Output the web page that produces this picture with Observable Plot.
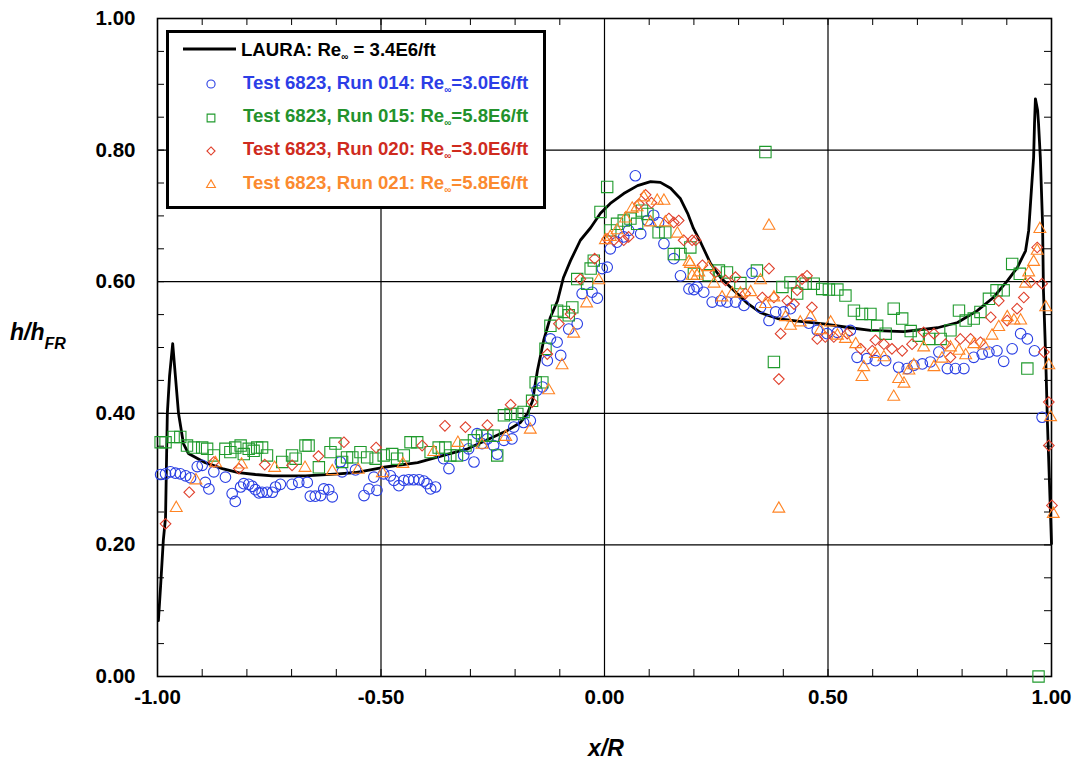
<!DOCTYPE html>
<html>
<head>
<meta charset="utf-8">
<script src="https://cdn.jsdelivr.net/npm/d3@7"></script>
<script src="https://cdn.jsdelivr.net/npm/@observablehq/plot@0.6"></script>
<style>
  body { margin: 0; background: #fff; }
  #wrap { position: relative; width: 1081px; height: 763px; font-family: "Liberation Sans", Arial, Helvetica, sans-serif; }
  #over { position: absolute; left: 0; top: 0; pointer-events: none; }
</style>
</head>
<body>
<div id="wrap"></div>
<script>
// ---- Data ----
const xMajorTicks = [-1, -0.5, 0, 0.5, 1];
const yMajorTicks = [0, 0.2, 0.4, 0.6, 0.8, 1.0];
const xGrid = [-0.5, 0, 0.5];
const yGrid = [0.2, 0.4, 0.6, 0.8];
const xMinorStep = 0.1;
const yMinorStep = 0.05;

const seriesNames = [
  "LAURA: Re\u221E = 3.4E6/ft",
  "Test 6823, Run 014: Re\u221E=3.0E6/ft",
  "Test 6823, Run 015: Re\u221E=5.8E6/ft",
  "Test 6823, Run 020: Re\u221E=3.0E6/ft",
  "Test 6823, Run 021: Re\u221E=5.8E6/ft"
];

// LAURA computation (x/R, h/hFR)
const laura = [
[-0.998,0.085],[-0.993,0.138],[-0.987,0.207],[-0.982,0.242],[-0.978,0.400],[-0.973,0.457],[-0.966,0.506],
[-0.960,0.457],[-0.953,0.400],[-0.942,0.354],[-0.931,0.339],[-0.893,0.325],[-0.855,0.316],[-0.819,0.310],
[-0.781,0.307],[-0.743,0.305],[-0.669,0.305],[-0.595,0.308],[-0.557,0.310],[-0.494,0.318],[-0.418,0.325],
[-0.360,0.336],[-0.306,0.346],[-0.255,0.362],[-0.217,0.374],[-0.188,0.386],[-0.172,0.400],[-0.161,0.419],
[-0.150,0.465],[-0.136,0.511],[-0.121,0.546],[-0.105,0.571],[-0.092,0.606],[-0.076,0.632],[-0.054,0.663],
[-0.031,0.682],[-0.009,0.704],[0.013,0.719],[0.043,0.734],[0.074,0.746],[0.103,0.752],[0.125,0.751],
[0.148,0.742],[0.170,0.726],[0.186,0.704],[0.199,0.681],[0.215,0.660],[0.237,0.628],[0.260,0.606],
[0.289,0.587],[0.320,0.567],[0.349,0.553],[0.387,0.544],[0.432,0.540],[0.490,0.536],[0.550,0.530],
[0.595,0.526],[0.669,0.524],[0.745,0.530],[0.790,0.538],[0.834,0.556],[0.870,0.576],[0.902,0.602],
[0.924,0.622],[0.942,0.647],[0.949,0.678],[0.955,0.739],[0.960,0.789],[0.962,0.840],[0.964,0.878],
[0.969,0.860],[0.971,0.840],[0.975,0.789],[0.980,0.688],[0.982,0.587],[0.987,0.485],[0.991,0.384],
[0.996,0.283],[1.000,0.202]
];

// Test 6823, Run 014 (circles)
const run014 = [
[-0.993,0.307],[-0.982,0.308],[-0.971,0.311],[-0.960,0.309],[-0.949,0.308],[-0.937,0.305],[-0.926,0.302],
[-0.911,0.319],[-0.900,0.321],[-0.893,0.295],[-0.885,0.285],[-0.874,0.311],[-0.848,0.303],[-0.833,0.278],
[-0.826,0.266],[-0.814,0.288],[-0.807,0.293],[-0.796,0.292],[-0.788,0.289],[-0.781,0.284],[-0.773,0.279],
[-0.766,0.280],[-0.755,0.280],[-0.743,0.280],[-0.736,0.288],[-0.725,0.292],[-0.699,0.292],[-0.684,0.295],
[-0.665,0.295],[-0.658,0.274],[-0.647,0.274],[-0.635,0.275],[-0.628,0.285],[-0.617,0.284],[-0.609,0.273],
[-0.591,0.326],[-0.587,0.311],[-0.557,0.314],[-0.538,0.275],[-0.527,0.285],[-0.516,0.303],[-0.509,0.283],
[-0.494,0.308],[-0.479,0.305],[-0.471,0.298],[-0.460,0.290],[-0.449,0.298],[-0.438,0.299],[-0.427,0.299],
[-0.415,0.299],[-0.404,0.297],[-0.397,0.293],[-0.389,0.285],[-0.378,0.288],[-0.360,0.331],[-0.348,0.316],
[-0.315,0.336],[-0.304,0.346],[-0.292,0.326],[-0.285,0.369],[-0.274,0.354],[-0.262,0.361],[-0.248,0.351],
[-0.240,0.338],[-0.225,0.359],[-0.207,0.361],[-0.203,0.379],[-0.181,0.386],[-0.166,0.389],[-0.151,0.435],
[-0.139,0.440],[-0.128,0.480],[-0.121,0.513],[-0.106,0.508],[-0.098,0.488],[-0.080,0.528],[-0.061,0.536],
[-0.050,0.582],[-0.028,0.584],[-0.016,0.575],[-0.005,0.620],[0.006,0.622],[0.013,0.650],[0.028,0.660],
[0.043,0.668],[0.054,0.678],[0.069,0.761],[0.081,0.673],[0.096,0.693],[0.110,0.701],[0.121,0.690],
[0.133,0.658],[0.155,0.635],[0.170,0.609],[0.189,0.589],[0.200,0.588],[0.207,0.592],[0.222,0.584],
[0.241,0.569],[0.260,0.571],[0.274,0.569],[0.293,0.569],[0.312,0.564],[0.330,0.613],[0.349,0.561],
[0.368,0.541],[0.383,0.554],[0.401,0.554],[0.416,0.559],[0.457,0.537],[0.476,0.526],[0.498,0.521],
[0.521,0.523],[0.550,0.526],[0.565,0.485],[0.587,0.483],[0.606,0.480],[0.629,0.480],[0.658,0.470],
[0.677,0.468],[0.692,0.473],[0.711,0.475],[0.729,0.478],[0.748,0.493],[0.767,0.468],[0.785,0.468],
[0.804,0.468],[0.826,0.485],[0.845,0.490],[0.860,0.493],[0.878,0.495],[0.893,0.479],[0.912,0.498],
[0.931,0.521],[0.946,0.513],[0.962,0.495],[0.979,0.394]
];

// Test 6823, Run 015 (squares)
const run015 = [
[-0.993,0.356],[-0.982,0.356],[-0.964,0.364],[-0.949,0.364],[-0.934,0.351],[-0.919,0.348],[-0.900,0.348],
[-0.889,0.346],[-0.874,0.336],[-0.848,0.346],[-0.837,0.341],[-0.826,0.348],[-0.814,0.351],[-0.807,0.338],
[-0.796,0.346],[-0.785,0.343],[-0.777,0.348],[-0.766,0.348],[-0.755,0.336],[-0.721,0.326],[-0.699,0.336],
[-0.691,0.331],[-0.669,0.351],[-0.662,0.351],[-0.639,0.318],[-0.613,0.341],[-0.602,0.354],[-0.587,0.326],
[-0.576,0.333],[-0.564,0.333],[-0.546,0.341],[-0.531,0.333],[-0.512,0.331],[-0.494,0.336],[-0.475,0.338],
[-0.464,0.331],[-0.449,0.336],[-0.434,0.356],[-0.419,0.356],[-0.389,0.341],[-0.371,0.348],[-0.356,0.348],
[-0.345,0.336],[-0.330,0.336],[-0.311,0.351],[-0.292,0.359],[-0.274,0.366],[-0.262,0.366],[-0.248,0.366],
[-0.240,0.336],[-0.225,0.397],[-0.210,0.399],[-0.195,0.399],[-0.181,0.402],[-0.162,0.419],[-0.154,0.447],
[-0.139,0.447],[-0.132,0.498],[-0.121,0.533],[-0.106,0.556],[-0.091,0.554],[-0.080,0.549],[-0.072,0.561],
[-0.061,0.604],[-0.039,0.597],[-0.031,0.620],[-0.024,0.632],[-0.009,0.706],[0.006,0.744],[0.013,0.678],
[0.028,0.688],[0.043,0.693],[0.058,0.696],[0.073,0.688],[0.084,0.708],[0.096,0.703],[0.121,0.675],
[0.136,0.675],[0.155,0.642],[0.170,0.642],[0.192,0.652],[0.200,0.612],[0.233,0.610],[0.256,0.617],
[0.274,0.614],[0.304,0.598],[0.341,0.617],[0.360,0.797],[0.379,0.478],[0.398,0.592],[0.416,0.599],
[0.431,0.582],[0.450,0.597],[0.468,0.597],[0.487,0.589],[0.502,0.588],[0.521,0.588],[0.539,0.579],
[0.558,0.556],[0.576,0.551],[0.595,0.551],[0.610,0.533],[0.629,0.521],[0.647,0.559],[0.666,0.544],
[0.685,0.525],[0.703,0.518],[0.726,0.513],[0.752,0.513],[0.774,0.526],[0.793,0.556],[0.808,0.541],
[0.826,0.544],[0.841,0.554],[0.860,0.574],[0.877,0.587],[0.893,0.587],[0.912,0.627],[0.929,0.612],
[0.946,0.468],[0.971,0.000]
];

// Test 6823, Run 020 (diamonds)
const run020 = [
[-0.982,0.232],[-0.929,0.280],[-0.874,0.326],[-0.818,0.316],[-0.760,0.322],[-0.699,0.321],[-0.640,0.335],
[-0.583,0.356],[-0.511,0.348],[-0.408,0.351],[-0.357,0.381],[-0.311,0.379],[-0.262,0.382],[-0.210,0.413],
[-0.162,0.417],[-0.128,0.490],[-0.102,0.536],[-0.076,0.551],[-0.054,0.604],[-0.022,0.635],[0.006,0.665],
[0.021,0.663],[0.043,0.663],[0.054,0.668],[0.077,0.718],[0.092,0.732],[0.105,0.720],[0.144,0.696],
[0.155,0.690],[0.166,0.693],[0.177,0.663],[0.196,0.663],[0.204,0.663],[0.219,0.625],[0.248,0.614],
[0.271,0.602],[0.293,0.607],[0.315,0.582],[0.353,0.576],[0.368,0.620],[0.379,0.576],[0.390,0.452],
[0.394,0.521],[0.409,0.571],[0.424,0.566],[0.431,0.587],[0.442,0.604],[0.453,0.609],[0.464,0.561],
[0.476,0.513],[0.494,0.516],[0.513,0.516],[0.543,0.521],[0.573,0.498],[0.599,0.495],[0.606,0.511],
[0.625,0.505],[0.643,0.498],[0.666,0.495],[0.688,0.505],[0.714,0.523],[0.737,0.521],[0.763,0.505],
[0.774,0.485],[0.796,0.513],[0.819,0.513],[0.841,0.508],[0.864,0.546],[0.882,0.571],[0.901,0.541],
[0.923,0.559],[0.938,0.576],[0.953,0.599],[0.968,0.652],[0.979,0.597],[0.983,0.493],[0.994,0.417],
[0.994,0.351],[1.001,0.260]
];

// Test 6823, Run 021 (triangles)
const run021 = [
[-0.958,0.256],[-0.914,0.298],[-0.870,0.324],[-0.812,0.322],[-0.738,0.317],[-0.670,0.317],[-0.609,0.312],
[-0.551,0.314],[-0.497,0.309],[-0.451,0.323],[-0.382,0.341],[-0.328,0.355],[-0.274,0.352],[-0.221,0.364],
[-0.166,0.375],[-0.125,0.435],[-0.095,0.473],[-0.069,0.521],[-0.040,0.567],[-0.013,0.602],[0.002,0.663],
[0.013,0.668],[0.028,0.678],[0.047,0.696],[0.062,0.711],[0.073,0.713],[0.088,0.728],[0.103,0.690],
[0.118,0.723],[0.133,0.723],[0.136,0.690],[0.163,0.673],[0.189,0.630],[0.192,0.627],[0.196,0.609],
[0.207,0.609],[0.211,0.614],[0.233,0.622],[0.245,0.597],[0.263,0.576],[0.286,0.582],[0.304,0.582],
[0.327,0.584],[0.349,0.602],[0.360,0.566],[0.368,0.685],[0.379,0.576],[0.390,0.255],[0.405,0.546],
[0.416,0.533],[0.438,0.538],[0.461,0.546],[0.483,0.526],[0.506,0.538],[0.521,0.518],[0.539,0.513],
[0.562,0.505],[0.576,0.455],[0.580,0.470],[0.606,0.490],[0.625,0.485],[0.647,0.425],[0.658,0.452],
[0.670,0.445],[0.681,0.465],[0.692,0.473],[0.714,0.500],[0.737,0.470],[0.755,0.483],[0.774,0.500],
[0.793,0.495],[0.808,0.488],[0.826,0.505],[0.849,0.503],[0.867,0.518],[0.882,0.531],[0.901,0.546],
[0.916,0.541],[0.931,0.541],[0.942,0.597],[0.949,0.614],[0.960,0.630],[0.968,0.647],[0.974,0.680],
[0.987,0.561],[0.994,0.473],[0.998,0.394],[1.004,0.247]
];

// ---- Styles ----
const colors = {
  c014: "#2a3fe4", c015: "#1f9a2c", c020: "#e0402c", c021: "#ff8424"
};
const textColors = ["#000000", "#2c3ee6", "#23922c", "#cf2b1e", "#fb8a2f"];

const W = 1081, H = 763;
const mL = 157, mR = 30, mT = 18, mB = 87;
const innerW = W - mL - mR, innerH = H - mT - mB;
const tickLen = 7;

const xMinor = d3.range(-10, 11).map(i => +(i * xMinorStep).toFixed(2));
const yMinor = d3.range(0, 21).map(i => +(i * yMinorStep).toFixed(2));
const fmt = d => d.toFixed(2);

const toObj = arr => arr.map(([x, y]) => ({x, y}));

const plot = Plot.plot({
  width: W, height: H,
  marginLeft: mL, marginRight: mR, marginTop: mT, marginBottom: mB,
  x: {domain: [-1, 1]},
  y: {domain: [0, 1]},
  style: {fontFamily: '"Liberation Sans", Arial, Helvetica, sans-serif', background: "#fff", overflow: "visible"},
  marks: [
    Plot.gridX(xGrid, {stroke: "#000", strokeOpacity: 1, strokeWidth: 1.2}),
    Plot.gridY(yGrid, {stroke: "#000", strokeOpacity: 1, strokeWidth: 1.2}),
    Plot.tickX(xMinor, {x: d => d, insetTop: innerH - tickLen, stroke: "#000", strokeWidth: 1}),
    Plot.tickX(xMinor, {x: d => d, insetBottom: innerH - tickLen, stroke: "#000", strokeWidth: 1}),
    Plot.tickY(yMinor, {y: d => d, insetRight: innerW - tickLen, stroke: "#000", strokeWidth: 1}),
    Plot.tickY(yMinor, {y: d => d, insetLeft: innerW - tickLen, stroke: "#000", strokeWidth: 1}),
    Plot.frame({stroke: "#000", strokeWidth: 1.6}),
    Plot.axisX(xMajorTicks, {tickSize: 0, tickPadding: 13, tickFormat: fmt, fontSize: 20.5, fontWeight: "bold", fill: "#000", label: null}),
    Plot.axisY(yMajorTicks, {tickSize: 0, tickPadding: 22, tickFormat: fmt, fontSize: 20.5, fontWeight: "bold", fill: "#000", label: null}),
    Plot.line(toObj(laura), {x: "x", y: "y", stroke: "#000", strokeWidth: 2.8, strokeLinejoin: "round"}),
    Plot.dot(toObj(run014), {x: "x", y: "y", symbol: "circle", r: 5.3, stroke: colors.c014, strokeWidth: 1.1, fill: "none"}),
    Plot.dot(toObj(run015), {x: "x", y: "y", symbol: "square", r: 6.4, stroke: colors.c015, strokeWidth: 1.1, fill: "none"}),
    Plot.dot(toObj(run020), {x: "x", y: "y", symbol: "diamond2", r: 4.8, stroke: colors.c020, strokeWidth: 1.1, fill: "none"}),
    Plot.dot(toObj(run021), {x: "x", y: "y", symbol: "triangle", r: 4.4, stroke: colors.c021, strokeWidth: 1.1, fill: "none"})
  ]
});

const wrap = document.getElementById("wrap");
wrap.appendChild(plot);

// ---- Overlay: axis titles and legend ----
const over = d3.select(wrap).append("svg")
  .attr("id", "over").attr("width", W).attr("height", H)
  .style("font-family", '"Liberation Sans", Arial, Helvetica, sans-serif');

// y title h/h_FR
const yt = over.append("text").attr("x", 10).attr("y", 340)
  .style("font-size", "23px").style("font-weight", "bold").style("font-style", "italic");
yt.append("tspan").text("h/h");
yt.append("tspan").attr("dy", 9).style("font-size", "16px").text("FR");

// x title
over.append("text").attr("x", 606).attr("y", 756).attr("text-anchor", "middle")
  .style("font-size", "23px").style("font-weight", "bold").style("font-style", "italic").text("x/R");

// legend
const lg = over.append("g");
lg.append("rect").attr("x", 167.5).attr("y", 31.5).attr("width", 377).attr("height", 176)
  .attr("fill", "#fff").attr("stroke", "#000").attr("stroke-width", 3);
lg.append("line").attr("x1", 183).attr("x2", 236).attr("y1", 49).attr("y2", 49)
  .attr("stroke", "#000").attr("stroke-width", 3);

const rowY = [56, 89, 122, 155, 189];
const rowX = [241, 243, 243, 243, 243];
seriesNames.forEach((name, i) => {
  const t = lg.append("text").attr("x", rowX[i]).attr("y", rowY[i])
    .attr("fill", textColors[i]).style("font-size", "18.6px").style("font-weight", "bold");
  const parts = name.split("\u221E");
  t.append("tspan").text(parts[0]);
  t.append("tspan").attr("dy", 4).style("font-size", "10px").text("\u221E");
  t.append("tspan").attr("dy", -4).text(parts[1]);
});

const symGen = (type, size) => d3.symbol().type(type).size(size)();
const legendMarks = [
  {type: d3.symbolCircle, size: 52, color: colors.c014, y: 84},
  {type: d3.symbolSquare, size: 60, color: colors.c015, y: 118},
  {type: d3.symbolDiamond2, size: 42, color: colors.c020, y: 151},
  {type: d3.symbolTriangle, size: 34, color: colors.c021, y: 185}
];
legendMarks.forEach(m => {
  lg.append("path").attr("d", symGen(m.type, m.size))
    .attr("transform", `translate(211,${m.y})`)
    .attr("fill", "none").attr("stroke", m.color).attr("stroke-width", 1.1);
});
</script>
</body>
</html>
